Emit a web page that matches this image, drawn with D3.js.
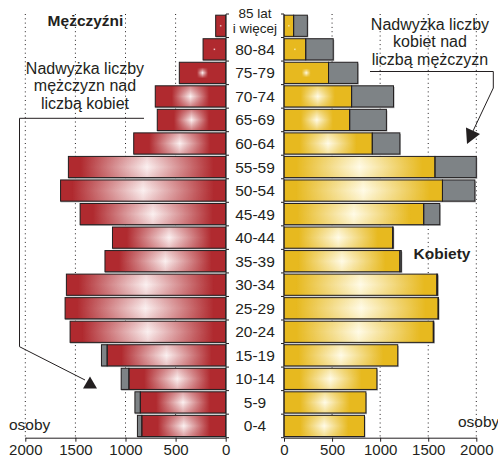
<!DOCTYPE html>
<html>
<head>
<meta charset="utf-8">
<style>
  body { margin: 0; background: #fff; }
  svg { display: block; font-family: 'Liberation Sans', Arial, sans-serif; }
  .lbl { fill: #231f20; }
</style>
</head>
<body>
<svg width="498" height="461"></svg>
<script src="https://d3js.org/d3.v7.min.js"></script>
<script>
// data, youngest group first
let ages = ["0-4", "5-9", "10-14", "15-19", "20-24", "25-29", "30-34", "35-39", "40-44",
            "45-49", "50-54", "55-59", "60-64", "65-69", "70-74", "75-79", "80-84", "85+"]
let males   = [881, 906, 1043, 1240, 1553, 1603, 1590, 1205, 1130, 1453, 1648, 1570, 918, 683, 703, 463, 226, 100]
let females = [837, 852, 966, 1183, 1558, 1607, 1598, 1220, 1136, 1620, 1985, 2000, 1205, 1065, 1139, 767, 512, 243]
let tickVals = [0, 500, 1000, 1500, 2000]

let svg = d3.select("svg")
let defs = svg.append("defs")

let xL = d3.scaleLinear().domain([0, 2000]).range([225.7, 25.3])
let xR = d3.scaleLinear().domain([0, 2000]).range([284, 476.3])
let y = d3.scaleBand()
    .domain(ages.slice().reverse())
    .range([14, 437.7])
    .paddingInner(0.1)
    .paddingOuter(0.05)

let ink = "#231f20"

// dotted grid
let grid = svg.append("g")
tickVals.filter(d => d > 0).forEach(v => {
    [xL(v), xR(v)].forEach(x => {
        grid.append("line")
            .attr("x1", x).attr("x2", x)
            .attr("y1", 14).attr("y2", 437.7)
            .attr("stroke", ink)
            .attr("stroke-width", 1)
            .attr("stroke-dasharray", "1,3.3")
    })
})

// bar with the square "fountain" highlight
let n = 0
function bar(g, x0, x1, top, h, dark, light) {
    let w = x1 - x0
    if (w <= 0.2) return
    let id = "b" + (n++)
    let cx = (x0 + x1) / 2, cy = top + h / 2
    let f = Math.max(1.3, 0.55 * w - 20)

    let hg = defs.append("linearGradient").attr("id", "h" + id)
        .attr("gradientUnits", "userSpaceOnUse")
        .attr("x1", cx - f).attr("x2", cx + f).attr("y1", 0).attr("y2", 0)
    hg.append("stop").attr("offset", 0).attr("stop-color", light).attr("stop-opacity", 0)
    hg.append("stop").attr("offset", 0.5).attr("stop-color", light).attr("stop-opacity", 1)
    hg.append("stop").attr("offset", 1).attr("stop-color", light).attr("stop-opacity", 0)

    let vg = defs.append("linearGradient").attr("id", "v" + id)
        .attr("gradientUnits", "userSpaceOnUse")
        .attr("x1", 0).attr("x2", 0).attr("y1", cy - f).attr("y2", cy + f)
    vg.append("stop").attr("offset", 0).attr("stop-color", "#000")
    vg.append("stop").attr("offset", 0.5).attr("stop-color", "#fff")
    vg.append("stop").attr("offset", 1).attr("stop-color", "#000")

    defs.append("mask").attr("id", "m" + id)
        .attr("maskUnits", "userSpaceOnUse")
        .append("rect")
        .attr("x", x0).attr("y", top).attr("width", w).attr("height", h)
        .attr("fill", "url(#v" + id + ")")

    g.append("rect").attr("x", x0).attr("y", top).attr("width", w).attr("height", h)
        .attr("fill", dark)
    g.append("rect").attr("x", x0).attr("y", top).attr("width", w).attr("height", h)
        .attr("fill", "url(#h" + id + ")")
        .attr("mask", "url(#m" + id + ")")
}

function plain(g, x0, x1, top, h, col) {
    if (x1 - x0 <= 0.2) return
    g.append("rect").attr("x", x0).attr("y", top).attr("width", x1 - x0).attr("height", h)
        .attr("fill", col)
}

let red = "#b02a2f", redLight = "#fbf1f1"
let yel = "#e7b91f", yelLight = "#fffbe8"
let grey = "#7e8386"

let bars = svg.append("g")
ages.forEach((a, i) => {
    let m = males[i], fm = females[i]
    let common = Math.min(m, fm)
    let top = y(a), h = y.bandwidth()

    // shadow
    bars.append("rect").attr("x", xL(m)).attr("y", top + 1.2)
        .attr("width", xL(0) - xL(m)).attr("height", h).attr("fill", "#a7a9ab")
    bars.append("rect").attr("x", xR(0) + 1).attr("y", top + 1.2)
        .attr("width", xR(fm) - xR(0)).attr("height", h).attr("fill", "#a7a9ab")

    // men
    bar(bars, xL(common), xL(0), top, h, red, redLight)
    plain(bars, xL(m), xL(common), top, h, grey)
    // women
    bar(bars, xR(0), xR(common), top, h, yel, yelLight)
    plain(bars, xR(common), xR(fm), top, h, grey)

    // outlines
    let outl = [[xL(m), xL(common)], [xL(common), xL(0)], [xR(0), xR(common)], [xR(common), xR(fm)]]
    outl.forEach(p => {
        if (p[1] - p[0] > 0.2) {
            bars.append("rect").attr("x", p[0]).attr("y", top)
                .attr("width", p[1] - p[0]).attr("height", h)
                .attr("fill", "none").attr("stroke", ink).attr("stroke-width", 1)
        }
    })
})

// vertical axis lines with row ticks
let step = y.step()
let rows = d3.range(ages.length + 1).map(i => 14 + i * step)
let va = svg.append("g").attr("stroke", ink).attr("stroke-width", 1)
va.append("line").attr("x1", 226).attr("x2", 226).attr("y1", 14).attr("y2", 437.7)
va.append("line").attr("x1", 284).attr("x2", 284).attr("y1", 14).attr("y2", 437.7)
rows.forEach(r => {
    va.append("line").attr("x1", 226).attr("x2", 229).attr("y1", r).attr("y2", r)
    va.append("line").attr("x1", 281).attr("x2", 284).attr("y1", r).attr("y2", r)
})

// bottom axes
function styleAxis(g) {
    g.select(".domain").attr("stroke", ink)
    g.selectAll(".tick line").attr("stroke", ink)
    g.selectAll(".tick text").attr("fill", ink).style("font-size", "15px")
        .style("font-family", "'Liberation Sans', Arial, sans-serif")
}
svg.append("g").attr("transform", "translate(0,437.7)")
    .call(d3.axisBottom(xL).tickValues(tickVals).tickFormat(d3.format("d"))
        .tickSize(4).tickSizeOuter(0).tickPadding(3))
    .call(styleAxis)
svg.append("g").attr("transform", "translate(0,437.7)")
    .call(d3.axisBottom(xR).tickValues(tickVals).tickFormat(d3.format("d"))
        .tickSize(4).tickSizeOuter(0).tickPadding(3))
    .call(styleAxis)

// age labels
let lab = svg.append("g").attr("class", "lbl").attr("text-anchor", "middle")
    .style("font-size", "15.5px")
ages.forEach(a => {
    let cy = y(a) + y.bandwidth() / 2
    if (a == "85+") {
        lab.append("text").attr("x", 255).attr("y", cy - 7.5).style("font-size", "13.5px").text("85 lat")
        lab.append("text").attr("x", 255).attr("y", cy + 7.5).style("font-size", "13.5px").text("i więcej")
    } else {
        lab.append("text").attr("x", 255).attr("y", cy + 5.5).text(a)
    }
})

// titles and notes
let t = svg.append("g").attr("class", "lbl")
t.append("text").attr("x", 85.5).attr("y", 25.5).attr("text-anchor", "middle")
    .style("font-size", "15.5px").style("font-weight", "bold").text("Mężczyźni")
t.append("text").attr("x", 442).attr("y", 259).attr("text-anchor", "middle")
    .style("font-size", "15.5px").style("font-weight", "bold").text("Kobiety")
t.append("text").attr("x", 9).attr("y", 430).style("font-size", "15.5px").text("osoby")
t.append("text").attr("x", 458).attr("y", 427).style("font-size", "15.5px").text("osoby")

let noteL = ["Nadwyżka liczby", "mężczyzn nad", "liczbą kobiet"]
let noteR = ["Nadwyżka liczby", "kobiet nad", "liczbą mężczyzn"]
noteL.forEach((s, i) => {
    t.append("text").attr("x", 85).attr("y", 73.5 + i * 17.6).attr("text-anchor", "middle")
        .style("font-size", "16px").text(s)
})
noteR.forEach((s, i) => {
    t.append("text").attr("x", 430).attr("y", 29.5 + i * 17.6).attr("text-anchor", "middle")
        .style("font-size", "16px").text(s)
})

// leader lines and arrowheads
svg.append("path").attr("d", "M144,118.3H19.5V346.7L85,380")
    .attr("fill", "none").attr("stroke", ink).attr("stroke-width", 1)
svg.append("path").attr("d", "M83,388.5L97,388.5L90,376.5Z").attr("fill", ink)
svg.append("path").attr("d", "M370,71.5H493.3V88L473,131")
    .attr("fill", "none").attr("stroke", ink).attr("stroke-width", 1)
svg.append("path").attr("d", "M466,127.5L480,134L467,144Z").attr("fill", ink)
</script>
</body>
</html>
